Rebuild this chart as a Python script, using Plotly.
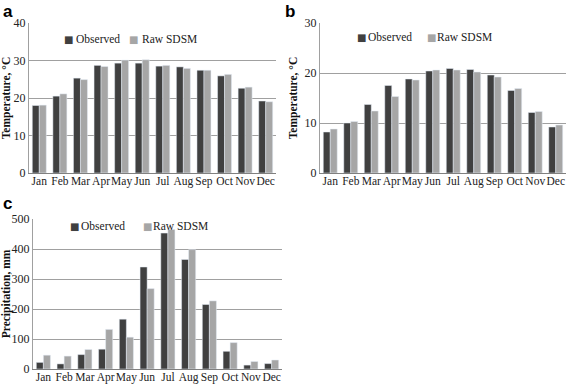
import plotly.graph_objects as go

months = ["Jan", "Feb", "Mar", "Apr", "May", "Jun", "Jul", "Aug", "Sep", "Oct", "Nov", "Dec"]
series_names = ["Observed", "Raw SDSM"]

a_observed = [18.0, 20.5, 25.3, 28.7, 29.3, 29.3, 28.5, 28.3, 27.4, 25.9, 22.6, 19.2]
a_raw_sdsm = [18.1, 21.1, 24.9, 28.4, 30.1, 30.2, 28.7, 27.9, 27.4, 26.3, 22.9, 19.0]

b_observed = [8.2, 10.0, 13.7, 17.5, 18.8, 20.4, 20.9, 20.7, 19.6, 16.5, 12.1, 9.2]
b_raw_sdsm = [8.8, 10.3, 12.4, 15.3, 18.6, 20.6, 20.6, 20.2, 19.2, 16.9, 12.3, 9.6]

c_observed = [22, 17, 48, 66, 166, 340, 453, 365, 215, 59, 13, 18]
c_raw_sdsm = [46, 43, 65, 132, 106, 268, 465, 398, 227, 88, 25, 30]

a_ticks = [0, 10, 20, 30, 40]
b_ticks = [0, 10, 20, 30]
c_ticks = [0, 100, 200, 300, 400, 500]

OBS = "#404040"
RAW = "#a6a6a6"
SERIF = "Liberation Serif"
W, H = 567, 385

fig = go.Figure()

panels = [
    ("", a_observed, a_raw_sdsm),
    ("2", b_observed, b_raw_sdsm),
    ("3", c_observed, c_raw_sdsm),
]
for suf, obs, raw in panels:
    fig.add_trace(go.Bar(x=months, y=obs, name=series_names[0], marker_color=OBS,
                         xaxis="x" + suf, yaxis="y" + suf, showlegend=False))
    fig.add_trace(go.Bar(x=months, y=raw, name=series_names[1], marker_color=RAW,
                         xaxis="x" + suf, yaxis="y" + suf, showlegend=False))


def xd(l, r):
    return [l / W, r / W]


def yd(b, t):
    return [1 - b / H, 1 - t / H]


xcommon = dict(showgrid=False, showline=True, linecolor="#808080", linewidth=1,
               ticks="", ticklen=0, tickangle=0, automargin=False, ticklabelstandoff=-3,
               tickfont=dict(family=SERIF, size=11.5, color="#222"),
               fixedrange=True)


def ycommon(title, rng, ticks):
    return dict(range=rng, tickvals=ticks, showgrid=True, gridcolor="#a0a0a0", gridwidth=1,
                showline=True, linecolor="#a0a0a0", linewidth=1, zeroline=False,
                ticks="", ticklen=0, automargin=False,
                tickfont=dict(family=SERIF, size=12, color="#222"),
                title=dict(text=title, font=dict(family=SERIF, size=11.5, color="#111"),
                           standoff=4),
                fixedrange=True)


# legend-like labels (marker square + text), positioned in pixels
legend_items = [
    # (marker1_x, text1_x, y_px, marker2_x, text2_x)
    (68.5, 74, 39, 133.5, 140),
    (361, 366, 37, 431, 435),
    (74, 79, 226, 147, 151),
]
annotations = []
for mx1, tx1, ypx, mx2, tx2 in legend_items:
    for mx, tx, col, name in [(mx1, tx1, OBS, series_names[0]), (mx2, tx2, RAW, series_names[1])]:
        annotations.append(dict(text="■", x=mx / W, y=1 - ypx / H, xref="paper", yref="paper",
                                xanchor="center", yanchor="middle", showarrow=False,
                                font=dict(family="DejaVu Sans", size=10, color=col)))
        annotations.append(dict(text=name, x=tx / W, y=1 - ypx / H, xref="paper", yref="paper",
                                xanchor="left", yanchor="middle", showarrow=False,
                                font=dict(family=SERIF, size=11.5, color="#222")))

for lbl, x, y in [("a", 1, 0), ("b", 283, 0), ("c", 1, 192)]:
    annotations.append(dict(text="<b>" + lbl + "</b>", x=x / W, y=1 - y / H, xref="paper",
                            yref="paper", xanchor="left", yanchor="top", showarrow=False,
                            font=dict(family="Liberation Sans", size=17, color="black")))

fig.update_layout(
    width=W, height=H,
    margin=dict(l=0, r=0, t=0, b=0),
    paper_bgcolor="white", plot_bgcolor="white",
    barmode="group", bargap=0.32, bargroupgap=0.0,
    showlegend=False,
    xaxis=dict(domain=xd(29, 276), anchor="y", **xcommon),
    yaxis=dict(domain=yd(173, 23), anchor="x",
               **ycommon("<b>Temperature, °C</b>", [0, 40], a_ticks)),
    xaxis2=dict(domain=xd(320, 566), anchor="y2", **xcommon),
    yaxis2=dict(domain=yd(173, 23), anchor="x2",
                **ycommon("<b>Temperature, °C</b>", [0, 30], b_ticks)),
    xaxis3=dict(domain=xd(33, 282), anchor="y3", **xcommon),
    yaxis3=dict(domain=yd(369, 219), anchor="x3",
                **ycommon("<b>Precipitation, mm</b>", [0, 500], c_ticks)),
    annotations=annotations,
)

fig.write_html("out.html", config={"displayModeBar": False},
               post_script="document.body.style.margin='0';document.body.style.overflow='hidden';")
